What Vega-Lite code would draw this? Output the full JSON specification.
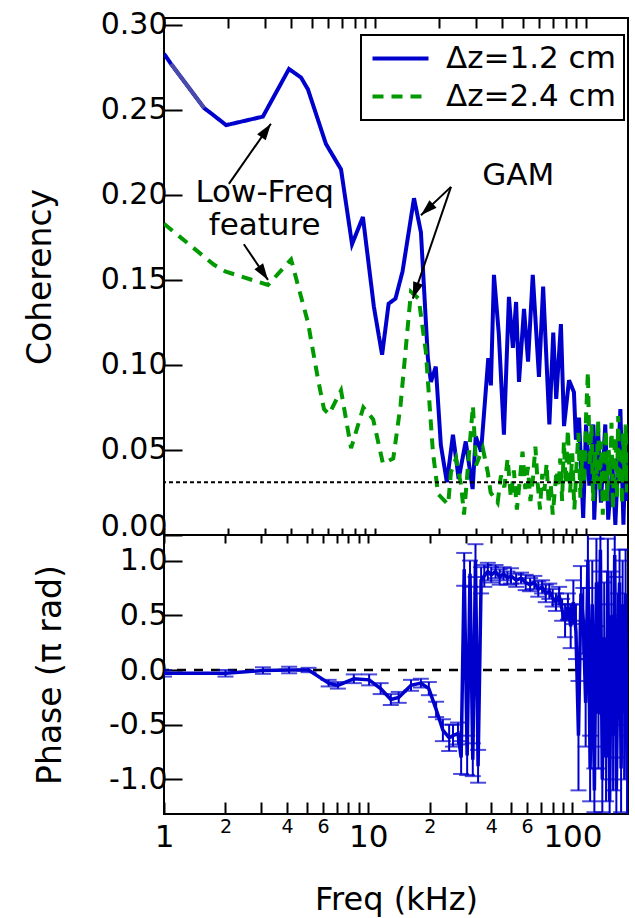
{
  "$schema": "https://vega.github.io/schema/vega-lite/v6.json",
  "background": "white",
  "padding": {"left": 23, "top": 8, "right": 2, "bottom": 2},
  "spacing": 0,
  "bounds": "flush",
  "config": {
    "font": "DejaVu Sans",
    "view": {"stroke": "black", "strokeWidth": 2},
    "axis": {"domain": false, "grid": false, "tickColor": "black", "tickWidth": 2, "labelColor": "black", "titleColor": "black", "titleFontWeight": "normal", "labelFont": "DejaVu Sans", "titleFont": "DejaVu Sans", "labelOverlap": false, "labelFlush": false, "labelBound": false},
    "legend": {"strokeWidth": 2}
  },
  "datasets": {
    "coh": [
      {"s": "Δz=1.2 cm", "f": 1.0, "c": 0.283}, {"s": "Δz=1.2 cm", "f": 1.08, "c": 0.277}, {"s": "Δz=1.2 cm", "f": 1.55, "c": 0.251}, {"s": "Δz=1.2 cm", "f": 1.67, "c": 0.248}, {"s": "Δz=1.2 cm", "f": 1.97, "c": 0.241}, {"s": "Δz=1.2 cm", "f": 2.94, "c": 0.246}, {"s": "Δz=1.2 cm", "f": 3.91, "c": 0.274}, {"s": "Δz=1.2 cm", "f": 4.46, "c": 0.269}, {"s": "Δz=1.2 cm", "f": 4.81, "c": 0.262}, {"s": "Δz=1.2 cm", "f": 5.85, "c": 0.230}, {"s": "Δz=1.2 cm", "f": 6.9, "c": 0.215}, {"s": "Δz=1.2 cm", "f": 7.78, "c": 0.171}, {"s": "Δz=1.2 cm", "f": 8.76, "c": 0.187}, {"s": "Δz=1.2 cm", "f": 9.88, "c": 0.134}, {"s": "Δz=1.2 cm", "f": 10.8, "c": 0.106}, {"s": "Δz=1.2 cm", "f": 11.6, "c": 0.136}, {"s": "Δz=1.2 cm", "f": 12.5, "c": 0.139}, {"s": "Δz=1.2 cm", "f": 13.5, "c": 0.155}, {"s": "Δz=1.2 cm", "f": 15.3, "c": 0.198}, {"s": "Δz=1.2 cm", "f": 16.5, "c": 0.178}, {"s": "Δz=1.2 cm", "f": 17.8, "c": 0.104}, {"s": "Δz=1.2 cm", "f": 18.4, "c": 0.090}, {"s": "Δz=1.2 cm", "f": 19.4, "c": 0.099}, {"s": "Δz=1.2 cm", "f": 20.5, "c": 0.053}, {"s": "Δz=1.2 cm", "f": 21.9, "c": 0.031}, {"s": "Δz=1.2 cm", "f": 23.4, "c": 0.059}, {"s": "Δz=1.2 cm", "f": 24.9, "c": 0.033}, {"s": "Δz=1.2 cm", "f": 26.9, "c": 0.055}, {"s": "Δz=1.2 cm", "f": 29.0, "c": 0.027}, {"s": "Δz=1.2 cm", "f": 30.0, "c": 0.058}, {"s": "Δz=1.2 cm", "f": 31.8, "c": 0.049}, {"s": "Δz=1.2 cm", "f": 34.4, "c": 0.104}, {"s": "Δz=1.2 cm", "f": 35.4, "c": 0.088}, {"s": "Δz=1.2 cm", "f": 36.6, "c": 0.153}, {"s": "Δz=1.2 cm", "f": 38.6, "c": 0.118}, {"s": "Δz=1.2 cm", "f": 40.8, "c": 0.059}, {"s": "Δz=1.2 cm", "f": 43.1, "c": 0.140}, {"s": "Δz=1.2 cm", "f": 45.0, "c": 0.110}, {"s": "Δz=1.2 cm", "f": 46.6, "c": 0.137}, {"s": "Δz=1.2 cm", "f": 48.1, "c": 0.090}, {"s": "Δz=1.2 cm", "f": 50.8, "c": 0.133}, {"s": "Δz=1.2 cm", "f": 53.1, "c": 0.102}, {"s": "Δz=1.2 cm", "f": 55.9, "c": 0.153}, {"s": "Δz=1.2 cm", "f": 59.8, "c": 0.093}, {"s": "Δz=1.2 cm", "f": 62.6, "c": 0.146}, {"s": "Δz=1.2 cm", "f": 67.0, "c": 0.065}, {"s": "Δz=1.2 cm", "f": 69.9, "c": 0.119}, {"s": "Δz=1.2 cm", "f": 72.2, "c": 0.080}, {"s": "Δz=1.2 cm", "f": 76.0, "c": 0.124}, {"s": "Δz=1.2 cm", "f": 78.6, "c": 0.064}, {"s": "Δz=1.2 cm", "f": 83.0, "c": 0.091}, {"s": "Δz=1.2 cm", "f": 87.6, "c": 0.084}, {"s": "Δz=1.2 cm", "f": 89.5, "c": 0.056}, {"s": "Δz=1.2 cm", "f": 92.6, "c": 0.069}, {"s": "Δz=1.2 cm", "f": 96.9, "c": 0.010}, {"s": "Δz=1.2 cm", "f": 100.0, "c": 0.065}, {"s": "Δz=1.2 cm", "f": 103.6, "c": 0.029}, {"s": "Δz=1.2 cm", "f": 108.1, "c": 0.065}, {"s": "Δz=1.2 cm", "f": 109.3, "c": 0.009}, {"s": "Δz=1.2 cm", "f": 113.8, "c": 0.065}, {"s": "Δz=1.2 cm", "f": 117.6, "c": 0.019}, {"s": "Δz=1.2 cm", "f": 123.3, "c": 0.065}, {"s": "Δz=1.2 cm", "f": 127.3, "c": 0.009}, {"s": "Δz=1.2 cm", "f": 133.3, "c": 0.041}, {"s": "Δz=1.2 cm", "f": 137.6, "c": 0.006}, {"s": "Δz=1.2 cm", "f": 145.4, "c": 0.074}, {"s": "Δz=1.2 cm", "f": 150.3, "c": 0.006}, {"s": "Δz=1.2 cm", "f": 153.6, "c": 0.049}, {"s": "Δz=1.2 cm", "f": 157.0, "c": 0.020},
      {"s": "Δz=2.4 cm", "f": 1.0, "c": 0.183}, {"s": "Δz=2.4 cm", "f": 1.72, "c": 0.159}, {"s": "Δz=2.4 cm", "f": 1.95, "c": 0.155}, {"s": "Δz=2.4 cm", "f": 3.11, "c": 0.147}, {"s": "Δz=2.4 cm", "f": 4.0, "c": 0.162}, {"s": "Δz=2.4 cm", "f": 4.31, "c": 0.147}, {"s": "Δz=2.4 cm", "f": 4.81, "c": 0.125}, {"s": "Δz=2.4 cm", "f": 5.36, "c": 0.092}, {"s": "Δz=2.4 cm", "f": 5.73, "c": 0.074}, {"s": "Δz=2.4 cm", "f": 6.05, "c": 0.071}, {"s": "Δz=2.4 cm", "f": 6.9, "c": 0.085}, {"s": "Δz=2.4 cm", "f": 7.7, "c": 0.051}, {"s": "Δz=2.4 cm", "f": 8.8, "c": 0.075}, {"s": "Δz=2.4 cm", "f": 9.8, "c": 0.068}, {"s": "Δz=2.4 cm", "f": 10.9, "c": 0.042}, {"s": "Δz=2.4 cm", "f": 12.2, "c": 0.045}, {"s": "Δz=2.4 cm", "f": 13.2, "c": 0.076}, {"s": "Δz=2.4 cm", "f": 14.8, "c": 0.143}, {"s": "Δz=2.4 cm", "f": 16.1, "c": 0.139}, {"s": "Δz=2.4 cm", "f": 17.4, "c": 0.108}, {"s": "Δz=2.4 cm", "f": 18.8, "c": 0.049}, {"s": "Δz=2.4 cm", "f": 19.9, "c": 0.024}, {"s": "Δz=2.4 cm", "f": 22.2, "c": 0.018}, {"s": "Δz=2.4 cm", "f": 22.9, "c": 0.037}, {"s": "Δz=2.4 cm", "f": 24.2, "c": 0.045}, {"s": "Δz=2.4 cm", "f": 25.6, "c": 0.029}, {"s": "Δz=2.4 cm", "f": 26.4, "c": 0.012}, {"s": "Δz=2.4 cm", "f": 29.1, "c": 0.076}, {"s": "Δz=2.4 cm", "f": 30.1, "c": 0.041}, {"s": "Δz=2.4 cm", "f": 32.4, "c": 0.051}, {"s": "Δz=2.4 cm", "f": 34.2, "c": 0.037}, {"s": "Δz=2.4 cm", "f": 35.3, "c": 0.025}, {"s": "Δz=2.4 cm", "f": 38.1, "c": 0.019}, {"s": "Δz=2.4 cm", "f": 39.5, "c": 0.035}, {"s": "Δz=2.4 cm", "f": 41.0, "c": 0.028}, {"s": "Δz=2.4 cm", "f": 42.5, "c": 0.045}, {"s": "Δz=2.4 cm", "f": 44.0, "c": 0.022}, {"s": "Δz=2.4 cm", "f": 45.5, "c": 0.038}, {"s": "Δz=2.4 cm", "f": 47.0, "c": 0.015}, {"s": "Δz=2.4 cm", "f": 48.5, "c": 0.032}, {"s": "Δz=2.4 cm", "f": 50.0, "c": 0.049}, {"s": "Δz=2.4 cm", "f": 51.5, "c": 0.027}, {"s": "Δz=2.4 cm", "f": 53.0, "c": 0.040}, {"s": "Δz=2.4 cm", "f": 54.5, "c": 0.020}, {"s": "Δz=2.4 cm", "f": 56.0, "c": 0.033}, {"s": "Δz=2.4 cm", "f": 57.5, "c": 0.052}, {"s": "Δz=2.4 cm", "f": 59.0, "c": 0.030}, {"s": "Δz=2.4 cm", "f": 60.5, "c": 0.015}, {"s": "Δz=2.4 cm", "f": 62.0, "c": 0.036}, {"s": "Δz=2.4 cm", "f": 63.5, "c": 0.026}, {"s": "Δz=2.4 cm", "f": 65.0, "c": 0.042}, {"s": "Δz=2.4 cm", "f": 66.5, "c": 0.018}, {"s": "Δz=2.4 cm", "f": 68.0, "c": 0.030}, {"s": "Δz=2.4 cm", "f": 69.5, "c": 0.012}, {"s": "Δz=2.4 cm", "f": 71.0, "c": 0.025}, {"s": "Δz=2.4 cm", "f": 72.5, "c": 0.038}, {"s": "Δz=2.4 cm", "f": 74.0, "c": 0.028}, {"s": "Δz=2.4 cm", "f": 75.5, "c": 0.045}, {"s": "Δz=2.4 cm", "f": 77.0, "c": 0.020}, {"s": "Δz=2.4 cm", "f": 78.5, "c": 0.055}, {"s": "Δz=2.4 cm", "f": 80.0, "c": 0.030}, {"s": "Δz=2.4 cm", "f": 82.0, "c": 0.062}, {"s": "Δz=2.4 cm", "f": 84.0, "c": 0.025}, {"s": "Δz=2.4 cm", "f": 86.0, "c": 0.048}, {"s": "Δz=2.4 cm", "f": 88.0, "c": 0.015}, {"s": "Δz=2.4 cm", "f": 90.0, "c": 0.040}, {"s": "Δz=2.4 cm", "f": 92.0, "c": 0.060}, {"s": "Δz=2.4 cm", "f": 94.0, "c": 0.022}, {"s": "Δz=2.4 cm", "f": 96.0, "c": 0.050}, {"s": "Δz=2.4 cm", "f": 98.0, "c": 0.030}, {"s": "Δz=2.4 cm", "f": 100.0, "c": 0.070}, {"s": "Δz=2.4 cm", "f": 102.0, "c": 0.096}, {"s": "Δz=2.4 cm", "f": 104.0, "c": 0.040}, {"s": "Δz=2.4 cm", "f": 106.0, "c": 0.065}, {"s": "Δz=2.4 cm", "f": 108.0, "c": 0.020}, {"s": "Δz=2.4 cm", "f": 110.0, "c": 0.050}, {"s": "Δz=2.4 cm", "f": 112.0, "c": 0.030}, {"s": "Δz=2.4 cm", "f": 114.0, "c": 0.068}, {"s": "Δz=2.4 cm", "f": 116.0, "c": 0.025}, {"s": "Δz=2.4 cm", "f": 118.0, "c": 0.055}, {"s": "Δz=2.4 cm", "f": 120.0, "c": 0.012}, {"s": "Δz=2.4 cm", "f": 122.0, "c": 0.045}, {"s": "Δz=2.4 cm", "f": 124.0, "c": 0.062}, {"s": "Δz=2.4 cm", "f": 126.0, "c": 0.020}, {"s": "Δz=2.4 cm", "f": 128.0, "c": 0.050}, {"s": "Δz=2.4 cm", "f": 130.0, "c": 0.035}, {"s": "Δz=2.4 cm", "f": 132.0, "c": 0.066}, {"s": "Δz=2.4 cm", "f": 134.0, "c": 0.015}, {"s": "Δz=2.4 cm", "f": 136.0, "c": 0.048}, {"s": "Δz=2.4 cm", "f": 138.0, "c": 0.058}, {"s": "Δz=2.4 cm", "f": 140.0, "c": 0.022}, {"s": "Δz=2.4 cm", "f": 142.0, "c": 0.070}, {"s": "Δz=2.4 cm", "f": 144.0, "c": 0.030}, {"s": "Δz=2.4 cm", "f": 146.0, "c": 0.052}, {"s": "Δz=2.4 cm", "f": 148.0, "c": 0.018}, {"s": "Δz=2.4 cm", "f": 150.0, "c": 0.060}, {"s": "Δz=2.4 cm", "f": 152.0, "c": 0.035}, {"s": "Δz=2.4 cm", "f": 154.0, "c": 0.065}, {"s": "Δz=2.4 cm", "f": 156.0, "c": 0.025}, {"s": "Δz=2.4 cm", "f": 158.0, "c": 0.045}
    ],
    "seg": [{"f": 1.08, "c": 0.277}, {"f": 1.55, "c": 0.251}],
    "arrows": [
      {"id": "a1", "f1": 2.03, "c1": 0.2065, "f2": 3.21, "c2": 0.2418},
      {"id": "a2", "f1": 2.39, "c1": 0.171, "f2": 3.11, "c2": 0.150},
      {"id": "a3", "f1": 22.9, "c1": 0.2047, "f2": 16.5, "c2": 0.188},
      {"id": "a4", "f1": 22.9, "c1": 0.2047, "f2": 15.1, "c2": 0.139}
    ],
    "notes": [
      {"f": 3.0, "c": 0.196, "t": "Low-Freq\nfeature"},
      {"f": 47.7, "c": 0.206, "t": "GAM"}
    ],
    "phase": [
      {"f": 1.0, "p": -0.03, "e": 0.03}, {"f": 2.0, "p": -0.03, "e": 0.03}, {"f": 3.05, "p": -0.005, "e": 0.03}, {"f": 4.1, "p": 0.0, "e": 0.03}, {"f": 5.1, "p": 0.0, "e": 0.02}, {"f": 6.4, "p": -0.12, "e": 0.03}, {"f": 7.1, "p": -0.14, "e": 0.03}, {"f": 8.5, "p": -0.08, "e": 0.04}, {"f": 10.1, "p": -0.09, "e": 0.05}, {"f": 11.5, "p": -0.17, "e": 0.05}, {"f": 12.9, "p": -0.27, "e": 0.05}, {"f": 14.1, "p": -0.25, "e": 0.05}, {"f": 16.2, "p": -0.14, "e": 0.05}, {"f": 18.1, "p": -0.12, "e": 0.04}, {"f": 19.8, "p": -0.17, "e": 0.06}, {"f": 21.5, "p": -0.36, "e": 0.07}, {"f": 23.2, "p": -0.55, "e": 0.10}, {"f": 24.9, "p": -0.62, "e": 0.12}, {"f": 26.0, "p": -0.60, "e": 0.10}, {"f": 27.5, "p": -0.58, "e": 0.10}, {"f": 28.5, "p": -0.80, "e": 0.15}, {"f": 29.5, "p": 0.92, "e": 0.15}, {"f": 30.5, "p": -0.78, "e": 0.18}, {"f": 31.5, "p": 0.88, "e": 0.12}, {"f": 32.5, "p": -0.82, "e": 0.15}, {"f": 33.5, "p": 1.0, "e": 0.15}, {"f": 34.5, "p": -0.88, "e": 0.15}, {"f": 35.7, "p": 0.82, "e": 0.12}, {"f": 37.0, "p": 0.86, "e": 0.10}, {"f": 38.5, "p": 0.90, "e": 0.08}, {"f": 40.0, "p": 0.87, "e": 0.07}, {"f": 42.0, "p": 0.90, "e": 0.06}, {"f": 44.0, "p": 0.85, "e": 0.07}, {"f": 46.0, "p": 0.88, "e": 0.06}, {"f": 48.0, "p": 0.84, "e": 0.06}, {"f": 50.0, "p": 0.86, "e": 0.07}, {"f": 53.0, "p": 0.82, "e": 0.06}, {"f": 56.0, "p": 0.84, "e": 0.05}, {"f": 59.0, "p": 0.80, "e": 0.07}, {"f": 62.0, "p": 0.78, "e": 0.06}, {"f": 65.0, "p": 0.80, "e": 0.06}, {"f": 68.0, "p": 0.74, "e": 0.07}, {"f": 71.0, "p": 0.76, "e": 0.06}, {"f": 74.0, "p": 0.70, "e": 0.08}, {"f": 77.0, "p": 0.72, "e": 0.07}, {"f": 80.0, "p": 0.66, "e": 0.08}, {"f": 83.0, "p": 0.62, "e": 0.08}, {"f": 86.0, "p": 0.68, "e": 0.08}, {"f": 89.0, "p": 0.55, "e": 0.10}, {"f": 92.0, "p": 0.45, "e": 0.15}, {"f": 95.0, "p": 0.58, "e": 0.12}, {"f": 98.0, "p": 0.40, "e": 0.2}, {"f": 101.0, "p": 0.62, "e": 0.2}, {"f": 104.0, "p": 0.35, "e": 0.25}, {"f": 107.0, "p": -0.6, "e": 0.5}, {"f": 110.0, "p": 0.70, "e": 0.25}, {"f": 113.0, "p": 0.45, "e": 0.3}, {"f": 116.0, "p": -0.3, "e": 0.4}, {"f": 119.0, "p": 1.0, "e": 0.25}, {"f": 122.0, "p": -0.9, "e": 0.3}, {"f": 125.0, "p": 0.6, "e": 0.4}, {"f": 128.0, "p": -1.1, "e": 0.2}, {"f": 131.0, "p": 0.8, "e": 0.4}, {"f": 134.0, "p": -0.4, "e": 0.5}, {"f": 137.0, "p": 1.1, "e": 0.2}, {"f": 140.0, "p": -1.0, "e": 0.3}, {"f": 143.0, "p": 0.3, "e": 0.5}, {"f": 146.0, "p": -0.8, "e": 0.4}, {"f": 149.0, "p": 0.9, "e": 0.3}, {"f": 152.0, "p": -1.2, "e": 0.2}, {"f": 155.0, "p": 0.5, "e": 0.4}, {"f": 158.0, "p": -0.6, "e": 0.5}, {"f": 161.0, "p": 1.05, "e": 0.2}, {"f": 164.0, "p": -1.1, "e": 0.3}, {"f": 167.0, "p": 0.2, "e": 0.5}, {"f": 170.0, "p": 0.8, "e": 0.3}, {"f": 173.0, "p": -0.9, "e": 0.4}, {"f": 176.0, "p": 0.6, "e": 0.4}, {"f": 179.0, "p": -0.4, "e": 0.6}, {"f": 182.0, "p": 0.7, "e": 0.4}, {"f": 185.0, "p": -1.0, "e": 0.4}
    ]
  },
  "vconcat": [
    {
      "width": 464,
      "height": 517,
      "resolve": {"axis": {"x": "independent", "y": "independent"}},
      "layer": [
        {
          "data": {"name": "coh"},
          "mark": {"type": "line", "strokeWidth": 4, "clip": true},
          "encoding": {
            "x": {"field": "f", "type": "quantitative", "scale": {"type": "log", "domain": [1, 158], "nice": false},
              "axis": {"orient": "bottom", "values": [1,2,3,4,5,6,7,8,9,10,20,30,40,50,60,70,80,90,100], "labels": false, "title": null, "tickSize": -7}},
            "y": {"field": "c", "type": "quantitative", "scale": {"domain": [0, 0.304], "nice": false, "zero": false},
              "axis": {"orient": "left", "values": [0, 0.05, 0.1, 0.15, 0.2, 0.25, 0.3], "format": ".2f", "labelFontSize": 30, "tickSize": -18, "labelPadding": 15,
                "labelOffset": {"condition": {"test": "datum.value == 0", "value": -9}, "value": 0},
                "title": "Coherency", "titleFontSize": 33, "titlePadding": 43}},
            "color": {"field": "s", "type": "nominal", "scale": {"domain": ["Δz=1.2 cm", "Δz=2.4 cm"], "range": ["#0000cc", "#009900"]},
              "legend": {"orient": "none", "legendX": 197, "legendY": 17, "title": null, "strokeColor": "black", "padding": 8, "labelFontSize": 31, "labelLimit": 400, "labelColor": "black", "symbolType": "M-2.8,0H2.8", "symbolSize": 400, "symbolStrokeWidth": 4, "symbolOffset": 16, "labelOffset": 30, "rowPadding": 6, "fillColor": "white"}},
            "strokeDash": {"field": "s", "type": "nominal", "scale": {"domain": ["Δz=1.2 cm", "Δz=2.4 cm"], "range": [[1, 0], [11, 8]]},
              "legend": {"orient": "none", "legendX": 197, "legendY": 17, "title": null, "strokeColor": "black", "padding": 8, "labelFontSize": 31, "labelLimit": 400, "labelColor": "black", "symbolType": "M-2.8,0H2.8", "symbolSize": 400, "symbolStrokeWidth": 4, "symbolOffset": 16, "labelOffset": 30, "rowPadding": 6, "fillColor": "white"}}
          }
        },
        {
          "data": {"name": "seg"},
          "mark": {"type": "line", "strokeWidth": 4, "color": "#4b4bab", "clip": true},
          "encoding": {
            "x": {"field": "f", "type": "quantitative",
              "axis": {"orient": "top", "values": [1,2,3,4,5,6,7,8,9,10,20,30,40,50,60,70,80,90,100], "labels": false, "title": null, "tickSize": -10}},
            "y": {"field": "c", "type": "quantitative", "axis": null}
          }
        },
        {
          "data": {"values": [{"thr": 0.031}]},
          "mark": {"type": "rule", "strokeDash": [4, 3], "strokeWidth": 2, "color": "black"},
          "encoding": {"y": {"field": "thr", "type": "quantitative", "axis": null}}
        },
        {
          "data": {"name": "arrows"},
          "mark": {"type": "rule", "strokeWidth": 2, "color": "black"},
          "encoding": {
            "x": {"field": "f1", "type": "quantitative", "axis": null}, "x2": {"field": "f2"},
            "y": {"field": "c1", "type": "quantitative", "axis": null}, "y2": {"field": "c2"}
          }
        },
        {
          "data": {"name": "arrows"}, "transform": [{"filter": "datum.id == 'a1'"}],
          "mark": {"type": "point", "shape": "M0,0L0.7,2.2L-0.7,2.2Z", "size": 225, "filled": true, "color": "black", "opacity": 1, "angle": 35},
          "encoding": {"x": {"field": "f2", "type": "quantitative", "axis": null}, "y": {"field": "c2", "type": "quantitative", "axis": null}}
        },
        {
          "data": {"name": "arrows"}, "transform": [{"filter": "datum.id == 'a2'"}],
          "mark": {"type": "point", "shape": "M0,0L0.7,2.2L-0.7,2.2Z", "size": 225, "filled": true, "color": "black", "opacity": 1, "angle": 146},
          "encoding": {"x": {"field": "f2", "type": "quantitative", "axis": null}, "y": {"field": "c2", "type": "quantitative", "axis": null}}
        },
        {
          "data": {"name": "arrows"}, "transform": [{"filter": "datum.id == 'a3'"}],
          "mark": {"type": "point", "shape": "M0,0L0.7,2.2L-0.7,2.2Z", "size": 225, "filled": true, "color": "black", "opacity": 1, "angle": 227},
          "encoding": {"x": {"field": "f2", "type": "quantitative", "axis": null}, "y": {"field": "c2", "type": "quantitative", "axis": null}}
        },
        {
          "data": {"name": "arrows"}, "transform": [{"filter": "datum.id == 'a4'"}],
          "mark": {"type": "point", "shape": "M0,0L0.7,2.2L-0.7,2.2Z", "size": 225, "filled": true, "color": "black", "opacity": 1, "angle": 199},
          "encoding": {"x": {"field": "f2", "type": "quantitative", "axis": null}, "y": {"field": "c2", "type": "quantitative", "axis": null}}
        },
        {
          "data": {"name": "notes"},
          "mark": {"type": "text", "fontSize": 31, "color": "black", "baseline": "alphabetic", "align": "center", "lineBreak": "\n", "lineHeight": 33},
          "encoding": {"x": {"field": "f", "type": "quantitative", "axis": null}, "y": {"field": "c", "type": "quantitative", "axis": null}, "text": {"field": "t"}}
        }
      ]
    },
    {
      "width": 464,
      "height": 279,
      "resolve": {"axis": {"x": "independent", "y": "independent"}},
      "layer": [
        {
          "data": {"values": [{"z": 0}]},
          "mark": {"type": "rule", "strokeDash": [9, 8], "strokeWidth": 2.5, "color": "black"},
          "encoding": {"y": {"field": "z", "type": "quantitative", "scale": {"domain": [-1.316, 1.234], "nice": false, "zero": false},
            "axis": {"orient": "left", "values": [-1, -0.5, 0, 0.5, 1], "labelExpr": "datum.value < 0 ? '-' + format(-datum.value, '.1f') : format(datum.value, '.1f')", "labelFontSize": 30, "tickSize": -18, "labelPadding": 15, "title": "Phase (π rad)", "titleFontSize": 33, "titlePadding": 41}}}
        },
        {
          "data": {"name": "phase"},
          "mark": {"type": "errorbar", "ticks": {"size": 16}, "color": "#0000cc", "thickness": 2, "clip": true},
          "encoding": {
            "x": {"field": "f", "type": "quantitative", "scale": {"type": "log", "domain": [1, 187], "nice": false},
              "axis": {"orient": "bottom", "values": [1,2,3,4,5,6,7,8,9,10,20,30,40,50,60,70,80,90,100], "title": "Freq (kHz)", "titleFontSize": 32, "titlePadding": 32, "tickSize": -12,
                "labelExpr": "(datum.value==1||datum.value==10||datum.value==100) ? datum.label : ((datum.value==2||datum.value==4||datum.value==6) ? format(datum.value,'d') : ((datum.value==20||datum.value==40||datum.value==60) ? format(datum.value/10,'d') : ''))",
                "labelFontSize": {"condition": {"test": "datum.value==1||datum.value==10||datum.value==100", "value": 31}, "value": 19},
                "labelPadding": {"condition": {"test": "datum.value==1||datum.value==10||datum.value==100", "value": 20}, "value": 15}}},
            "y": {"field": "p", "type": "quantitative", "axis": null},
            "yError": {"field": "e"}
          }
        },
        {
          "data": {"name": "phase"},
          "mark": {"type": "line", "strokeWidth": 3.5, "color": "#0000cc", "clip": true},
          "encoding": {
            "x": {"field": "f", "type": "quantitative",
              "axis": {"orient": "top", "values": [1,2,3,4,5,6,7,8,9,10,20,30,40,50,60,70,80,90,100], "labels": false, "title": null, "tickSize": -8}},
            "y": {"field": "p", "type": "quantitative", "axis": null}
          }
        }
      ]
    }
  ]
}
